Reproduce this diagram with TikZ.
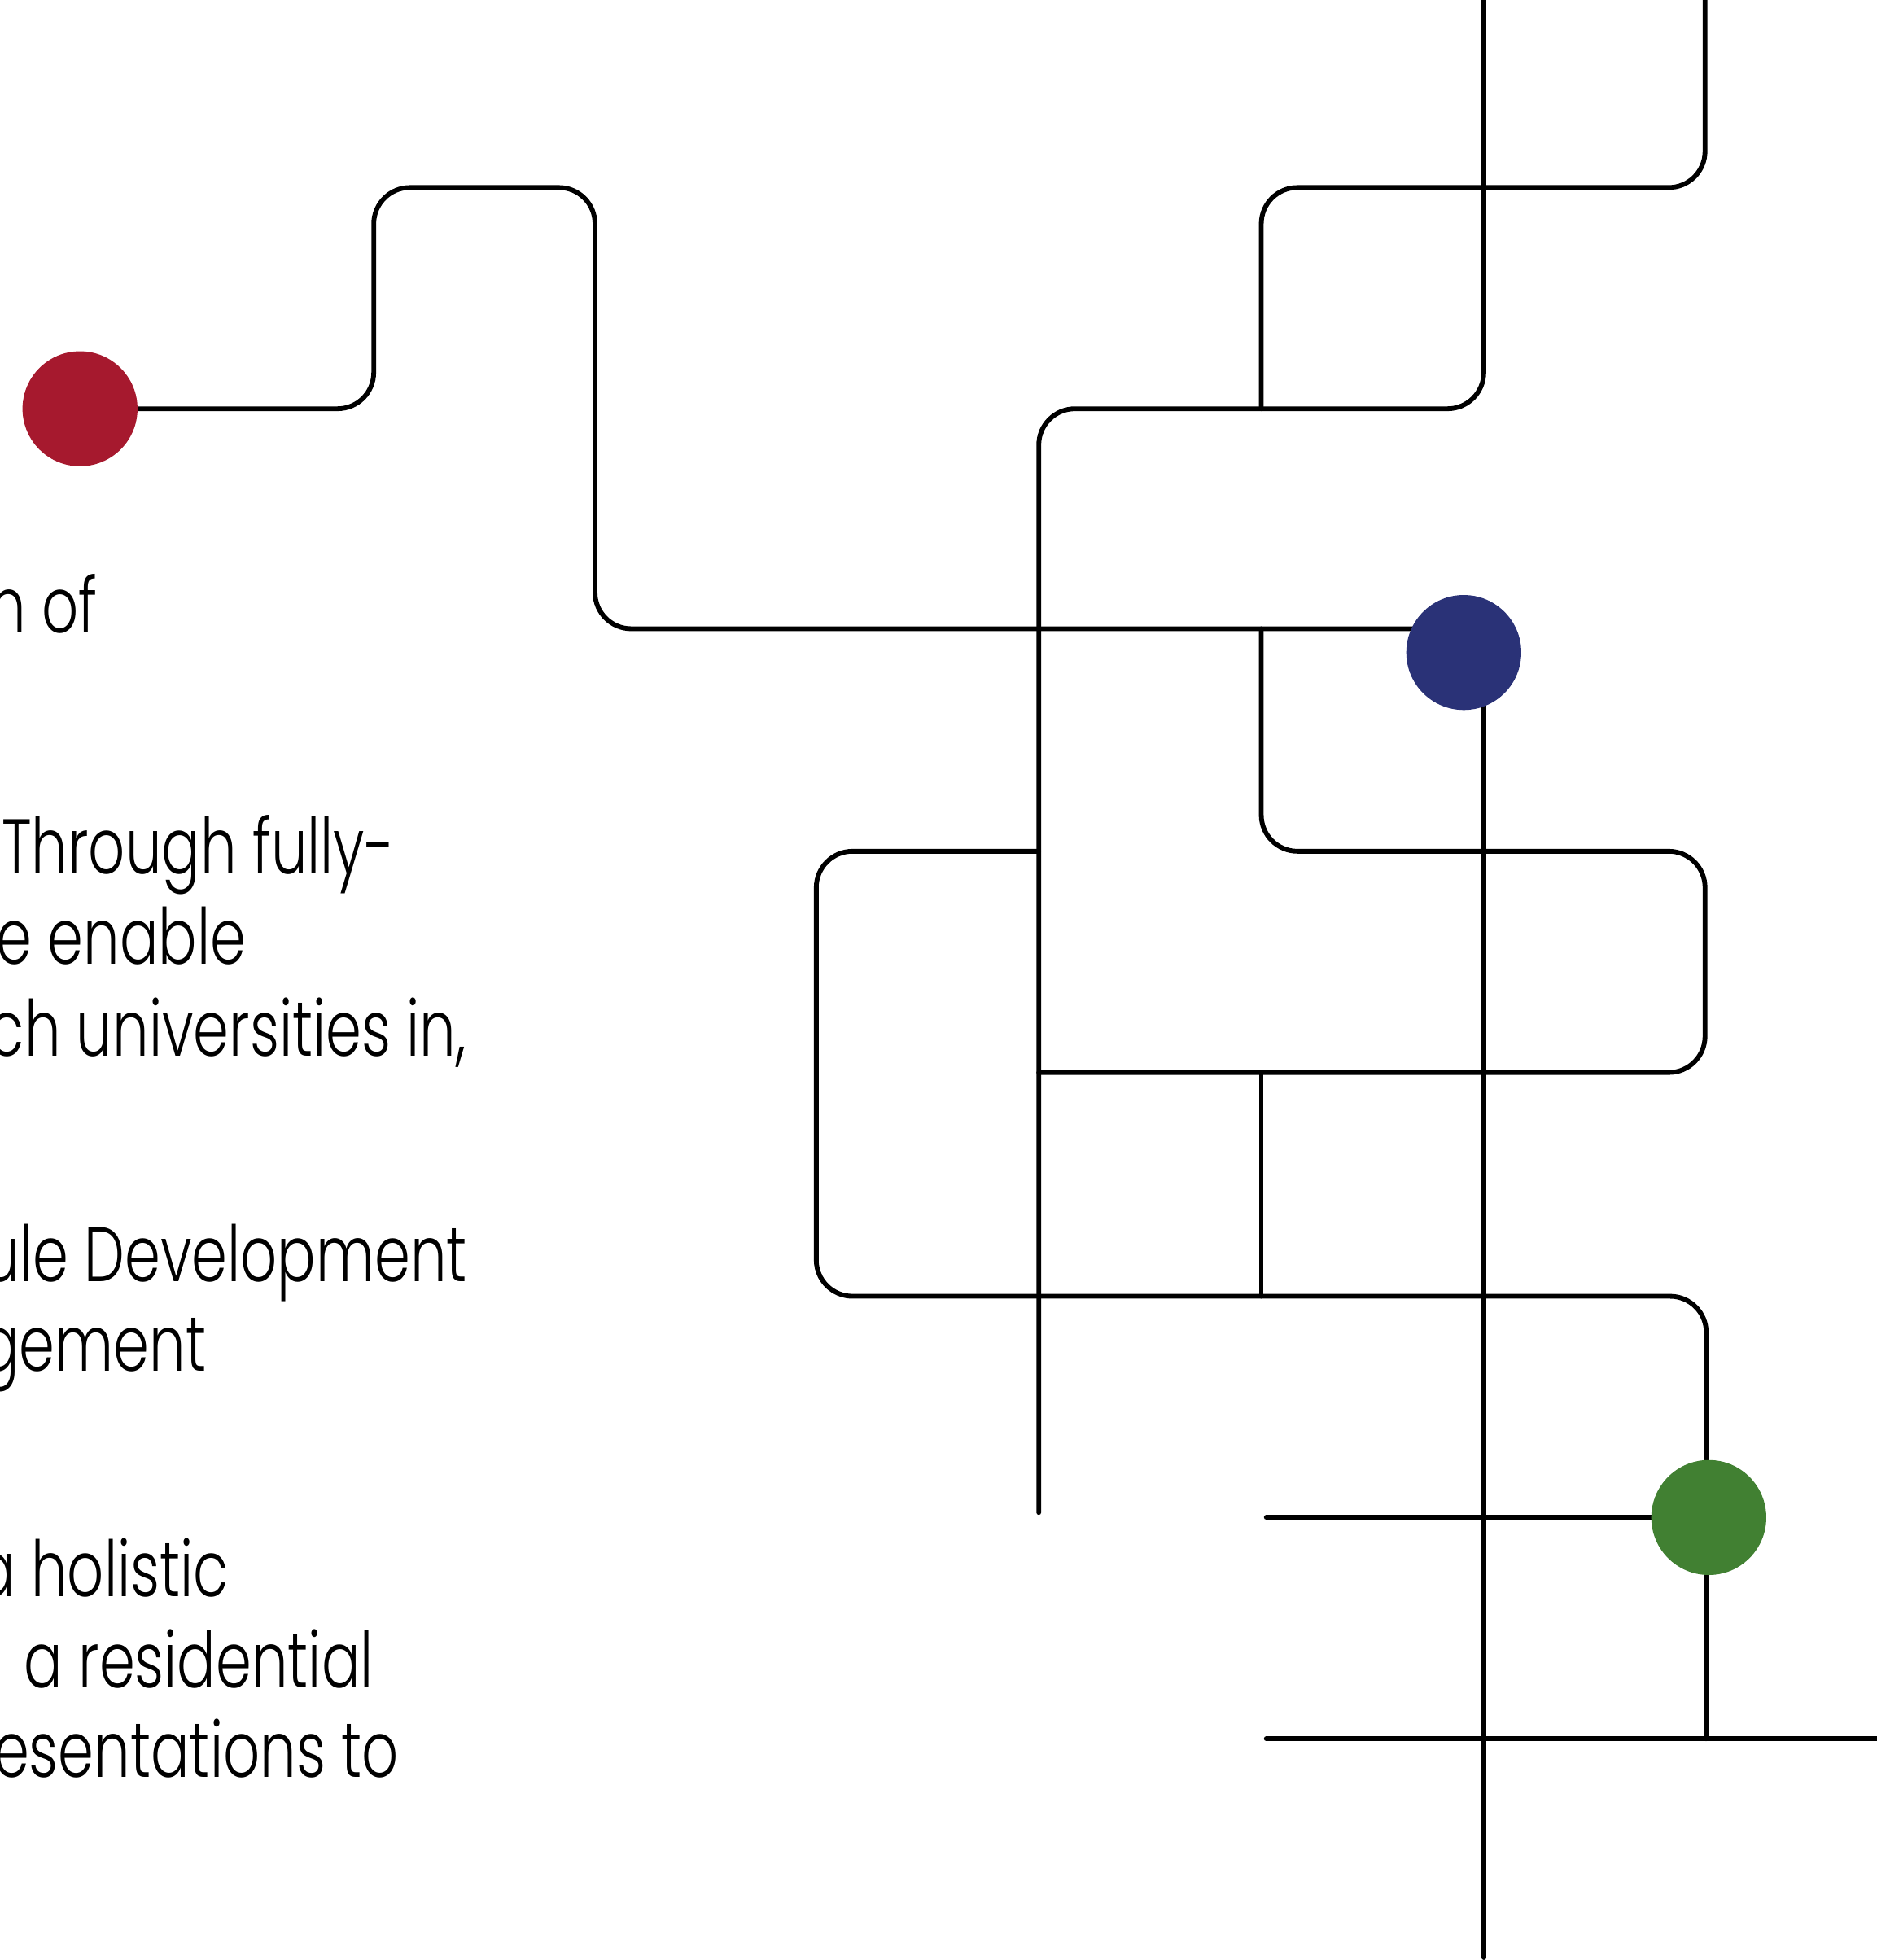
\documentclass[tikz,border=0pt]{standalone}
\usepackage{fontspec}
\setmainfont{Poppins}[UprightFont=* Light, FakeStretch=0.74]
\usetikzlibrary{backgrounds}
\definecolor{dotred}{RGB}{166,25,46}
\definecolor{dotblue}{RGB}{42,50,119}
\definecolor{dotgreen}{RGB}{65,128,50}
\tikzset{
  dot/.style={circle, minimum size=92pt, inner sep=0pt, draw=none},
  wire/.style={draw=black, line width=3.8pt, rounded corners=29pt, line cap=round},
  txt/.style={anchor=base east, inner sep=0pt, font=\fontsize{62}{72}\selectfont}
}
\begin{document}
\begin{tikzpicture}[x=1pt,y=-1pt]
\useasboundingbox (0,0) rectangle (1501,1568);
% dots
\node[dot, fill=dotred] (red) at (64,327) {};
\node[dot, fill=dotblue] (blue) at (1171,522) {};
\node[dot, fill=dotgreen] (green) at (1367,1214) {};
% free ends and hidden ends
\coordinate (topA) at (1187,-5);
\coordinate (topB) at (1364,-5);
\coordinate (endA) at (831,1210);
\coordinate (bot) at (1187,1566);
\coordinate (bin) at (1171,503);
\coordinate (bdown) at (1187,522);
\coordinate (gin) at (1365,1214);
\coordinate (g1) at (1013,1214);
\coordinate (h1) at (1013,1391);
\coordinate (h2) at (1506,1391);
\coordinate (hj) at (1365,1391);
\begin{scope}[on background layer]
\draw[wire] (red.center) -- (299,327) -- (299,150) -- (476,150) -- (476,503) -- (bin);
\draw[wire] (topA) -- (1187,327) -- (831,327) -- (endA);
\draw[wire] (topB) -- (1364,150) -- (1009,150) -- (1009,327);
\draw[wire] (bdown) -- (bot);
\draw[wire] (1009,503) -- (1009,681) -- (1364,681) -- (1364,858) -- (831,858);
\draw[wire] (831,681) -- (653,681) -- (653,1037) -- (1365,1037) -- (gin);
\draw[wire] (1009,858) -- (1009,1037);
\draw[wire] (g1) -- (green.center);
\draw[wire] (gin) -- (hj);
\draw[wire] (h1) -- (h2);
\end{scope}
% text
\node[txt] (t1) at (78,506) {n of};
\node[txt] (t2) at (316,699) {Through fully-};
\node[txt] (t3) at (197,771) {e enable};
\node[txt] (t4) at (373,845) {ch universities in,};
\node[txt] (t5) at (374,1025) {ule Development};
\node[txt] (t6) at (165,1097) {gement};
\node[txt] (t7) at (183,1277) {a holistic};
\node[txt] (t8) at (299,1350) {a residential};
\node[txt] (t9) at (319,1422) {resentations to};
\end{tikzpicture}
\end{document}
